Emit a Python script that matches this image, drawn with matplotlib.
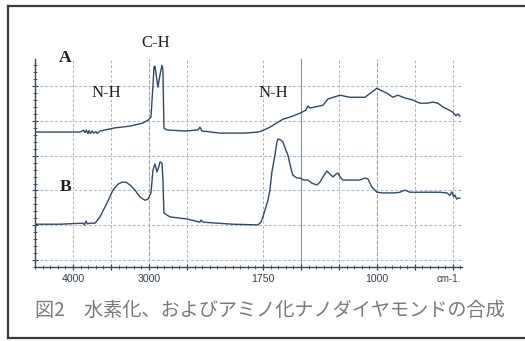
import numpy as np
import matplotlib
matplotlib.use('Agg')
import matplotlib.pyplot as plt
from matplotlib.lines import Line2D
from matplotlib.ticker import FixedLocator, FixedFormatter

# IR spectra (wavenumber cm-1, arbitrary transmittance units)
wn_A = [4500, 4171, 3908, 3860, 3842, 3825, 3803, 3790, 3770, 3750, 3730, 3697, 3680,
        3645, 3579, 3447, 3250, 3079, 3013, 2974, 2947, 2934, 2921, 2895, 2882, 2855,
        2829, 2816, 2803, 2763, 2526, 2355, 2329, 2303, 2066, 1868, 1783, 1757, 1704,
        1618, 1572, 1507, 1467, 1454, 1441, 1355, 1322, 1243, 1211, 1178, 1079, 1000,
        980, 934, 895, 862, 816, 763, 717, 671, 632, 599, 566, 520, 500, 480, 467, 454]
val_A = [36.8, 36.8, 36.8, 37.3, 36.6, 37.4, 36.3, 37.2, 36.4, 37.1, 36.5, 36.9, 36.4,
         37.1, 37.4, 38.0, 38.5, 39.4, 40.2, 41.1, 50.3, 55.5, 55.7, 51.7, 49.7, 53.2,
         56.0, 54.6, 37.9, 37.4, 37.1, 37.4, 38.2, 37.1, 36.5, 36.5, 36.8, 37.1, 38.2,
         40.5, 41.1, 42.2, 43.1, 44.3, 43.7, 44.5, 46.3, 47.4, 47.1, 46.8, 46.8, 49.4,
         48.9, 48.0, 46.8, 47.4, 46.6, 46.0, 45.1, 45.1, 45.4, 45.1, 44.0, 43.0, 42.5,
         41.5, 42.0, 41.4]

wn_B = [4500, 4171, 3868, 3850, 3829, 3810, 3776, 3711, 3645, 3553, 3474, 3408, 3355,
        3303, 3250, 3184, 3118, 3053, 3013, 2974, 2947, 2921, 2895, 2868, 2855, 2829,
        2816, 2803, 2724, 2500, 2329, 2316, 2289, 2105, 1947, 1783, 1763, 1750, 1717,
        1704, 1691, 1671, 1658, 1651, 1632, 1618, 1599, 1586, 1566, 1553, 1526, 1507,
        1480, 1454, 1428, 1395, 1375, 1355, 1329, 1309, 1289, 1270, 1257, 1237, 1224,
        1112, 1079, 1059, 1033, 1000, 961, 882, 849, 816, 783, 737, 632, 586, 539, 520,
        507, 495, 487, 475, 467, 454]
val_B = [10.3, 10.3, 10.6, 10.1, 11.2, 10.4, 10.6, 10.6, 12.4, 16.4, 20.1, 21.8, 22.4,
         22.4, 21.6, 20.1, 18.1, 17.2, 17.5, 19.3, 25.9, 27.6, 25.3, 27.0, 28.2, 27.9,
         23.0, 13.5, 12.4, 11.8, 10.9, 11.5, 10.9, 10.6, 10.3, 10.1, 10.9, 12.4, 17.2,
         20.1, 25.3, 30.2, 33.9, 34.8, 34.5, 33.9, 31.6, 30.2, 26.4, 24.4, 23.6, 23.6,
         23.0, 23.0, 22.1, 21.6, 22.4, 23.9, 25.6, 24.7, 23.9, 24.7, 25.0, 23.6, 23.0,
         23.0, 23.6, 23.3, 21.0, 19.5, 19.3, 19.3, 19.5, 20.1, 19.5, 19.5, 19.5, 19.5,
         19.3, 18.6, 19.6, 18.2, 18.7, 17.5, 17.8, 17.8]

grid_wn = [4000, 3500, 3000, 2500, 1750, 1500, 1250, 1000, 750, 500]
label_wn = {4000: '4000', 3000: '3000', 1750: '1750', 1000: '1000'}
grid_y = [0, 10, 20, 30, 40, 50]

caption = '図2\u3000水素化、およびアミノ化ナノダイヤモンドの合成'

# grating change at 2000 cm-1: half the spacing above it
def fwd(w):
    w = np.asarray(w, dtype=float)
    return np.where(w >= 2000, (w - 2000) / 500.0, (w - 2000) / 250.0)

def inv(u):
    u = np.asarray(u, dtype=float)
    return np.where(u >= 0, 2000 + 500.0 * u, 2000 + 250.0 * u)

line_c = '#2f4a6c'
grid_c = '#a9b7cb'

fig = plt.figure(figsize=(5.25, 3.41), dpi=100)
fig.patch.set_facecolor('white')
ax = fig.add_axes([35 / 525, 1 - 267 / 341, 427 / 525, 208 / 341])
ax.set_xscale('function', functions=(fwd, inv))
ax.set_xlim(4500, 440)
ax.set_ylim(-2.0, 57.8)

for w in grid_wn:
    if w == 1500:
        ax.axvline(w, color='#8292aa', lw=0.8, zorder=1)
    elif w in (3000, 1000):
        ax.axvline(w, color='#93a2b8', lw=0.75, ls=(0, (4, 1.5)), zorder=1)
    else:
        ax.axvline(w, color=grid_c, lw=0.7, ls=(0, (3, 2)), zorder=1)
for y in grid_y:
    ax.axhline(y, color=grid_c, lw=0.7, ls=(0, (3, 2)), zorder=1)

ax.plot(wn_A, val_A, color=line_c, lw=1.0, zorder=3)
ax.plot(wn_B, val_B, color=line_c, lw=1.0, zorder=3)

for s in ['top', 'right']:
    ax.spines[s].set_visible(False)
for s in ['left', 'bottom']:
    ax.spines[s].set_color('#34465e')
    ax.spines[s].set_linewidth(1.0)

ax.xaxis.set_major_locator(FixedLocator(grid_wn))
ax.xaxis.set_major_formatter(FixedFormatter([label_wn.get(w, '') for w in grid_wn]))
minor_u = np.arange(-6.2, 5.01, 0.2)
ax.xaxis.set_minor_locator(FixedLocator(inv(minor_u)))
ax.yaxis.set_major_locator(FixedLocator(grid_y))
ax.yaxis.set_minor_locator(FixedLocator(np.arange(-2, 57, 2)))
ax.yaxis.set_major_formatter(FixedFormatter([''] * len(grid_y)))
ax.tick_params(axis='x', which='major', direction='inout', length=5, width=0.9,
               color='#34465e', labelsize=7.6, labelcolor='#2f3d52', pad=2.5)
ax.tick_params(axis='x', which='minor', direction='inout', length=2.5, width=0.6,
               color='#34465e')
ax.tick_params(axis='y', which='major', direction='inout', length=4, width=0.8,
               color='#34465e')
ax.tick_params(axis='y', which='minor', direction='inout', length=2.5, width=0.6,
               color='#34465e')
for t in ax.get_xticklabels():
    t.set_fontfamily('Liberation Sans')

ax.text(530, -0.035, 'cm-1.', transform=ax.get_xaxis_transform(), ha='center',
        va='top', fontsize=7.0, color='#2f3d52', family='Liberation Sans')

serif = dict(family='Liberation Serif', color='#1f1f1f', ha='center', va='center')
ax.text(4105, (260 - 58) / 3.48, 'A', fontsize=12.5, weight='bold', clip_on=False, **serif)
ax.text(4092, (260 - 187) / 3.48, 'B', fontsize=12.5, weight='bold', **serif)
ax.text(2910, (260 - 43) / 3.48, 'C-H', fontsize=12, clip_on=False, **serif)
ax.text(3560, (260 - 93) / 3.48, 'N-H', fontsize=12, **serif)
ax.text(1680, (260 - 93) / 3.48, 'N-H', fontsize=12, **serif)

fig.text(35 / 525, 1 - 310 / 341, caption, fontsize=13.8, color='#7a7a7a',
         ha='left', va='center', family=['Noto Sans CJK JP', 'DejaVu Sans'])

# scanned frame: left, top and bottom edges (right edge cut off)
x0, yt, yb = 8 / 525, 1 - 6 / 341, 1 - 338 / 341
for xs, ys in [([x0, x0], [yb, yt]), ([x0, 1.0], [yt, yt]), ([x0, 1.0], [yb, yb])]:
    fig.add_artist(Line2D(xs, ys, transform=fig.transFigure, color='#3c3c3c', lw=1.6))

fig.savefig('out.png', dpi=100)
